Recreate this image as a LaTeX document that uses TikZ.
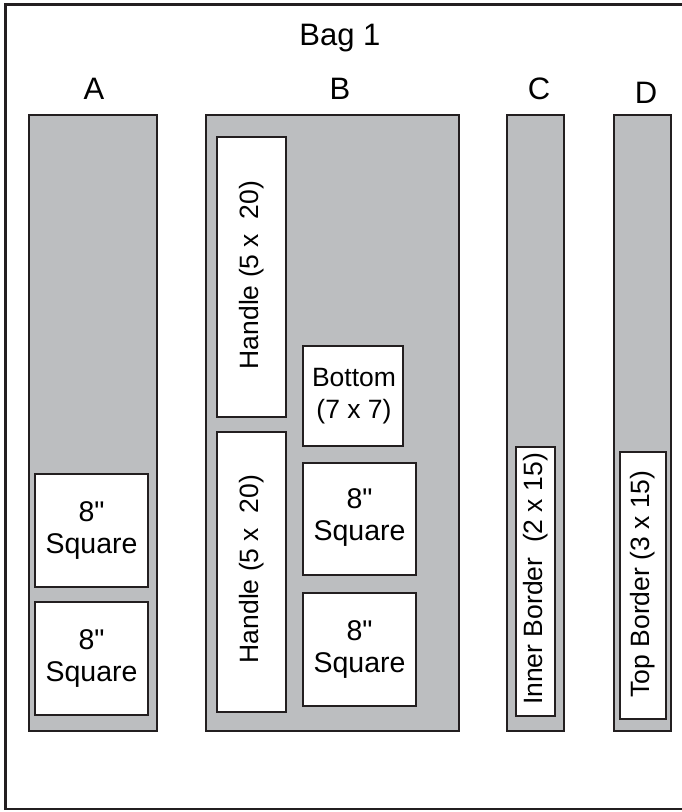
\documentclass[tikz,border=0pt]{standalone}
\usepackage{fontspec}
\setmainfont{Liberation Sans}[Ligatures=TeXOff]
\usepackage{xcolor}
\definecolor{inkline}{HTML}{231F20}
\definecolor{fabric}{HTML}{BCBEC0}
\tikzset{strip/.style={draw=inkline,fill=fabric,line width=2.5pt}}
\tikzset{piece/.style={draw=inkline,fill=white,line width=2.5pt}}
\tikzset{piecetext/.style={font=\fontsize{26.5}{32}\selectfont,align=center,inner sep=0pt}}
\tikzset{squaretext/.style={font=\fontsize{28.5}{32}\selectfont,align=center,inner sep=0pt}}
\tikzset{sidetext/.style={font=\fontsize{26.5}{32}\selectfont,rotate=90,inner sep=0pt}}
\tikzset{bagtext/.style={font=\fontsize{31}{36}\selectfont,anchor=base,inner sep=0pt}}

\begin{document}
\begin{tikzpicture}[x=1pt,y=-1pt]
  \useasboundingbox (0,0) rectangle (681,812);

  % Frame
  \draw[inkline,line width=2.5pt] (690,4.5) -- (5.3,4.5) -- (5.3,809) -- (690,809);

  % Labels
  \node[bagtext] (bag) at (340,45) {Bag 1};
  \node[bagtext] (labA) at (94,99) {A};
  \node[bagtext] (labB) at (340,99) {B};
  \node[bagtext] (labC) at (539,99) {C};
  \node[bagtext] (labD) at (646,103) {D};

  % Strip A
  \draw[strip] (29,115) rectangle (157,731);
  \draw[piece] (35,474) rectangle (148,587);
  \draw[piece] (35,602) rectangle (148,715);
  \node[squaretext] (sqA1) at (91.5,530) {8"\\Square};
  \node[squaretext] (sqA2) at (91.5,658) {8"\\Square};

  % Strip B
  \draw[strip] (206,115) rectangle (459,731);
  \draw[piece] (217,137) rectangle (286,417);
  \draw[piece] (217,432) rectangle (286,712);
  \draw[piece] (303,346) rectangle (403,446);
  \draw[piece] (303,463) rectangle (416,575);
  \draw[piece] (303,593) rectangle (416,706);
  \node[sidetext] (handle1) at (251.5,275) {Handle (5 x \ 20)};
  \node[sidetext] (handle2) at (251.5,569) {Handle (5 x \ 20)};
  \node[piecetext] (bottom) at (354,396) {Bottom\\(7 x 7)};
  \node[squaretext] (sqB1) at (359.5,517) {8"\\Square};
  \node[squaretext] (sqB2) at (359.5,649) {8"\\Square};

  % Strip C
  \draw[strip] (507,115) rectangle (564,731);
  \draw[piece] (516,447) rectangle (555,716);
  \node[sidetext] (inner) at (535.5,579) {Inner Border \ (2 x 15)};

  % Strip D
  \draw[strip] (614,115) rectangle (671,731);
  \draw[piece] (620,452) rectangle (666,719);
  \node[sidetext] (topb) at (643,584) {Top Border (3 x 15)};

\end{tikzpicture}
\end{document}
